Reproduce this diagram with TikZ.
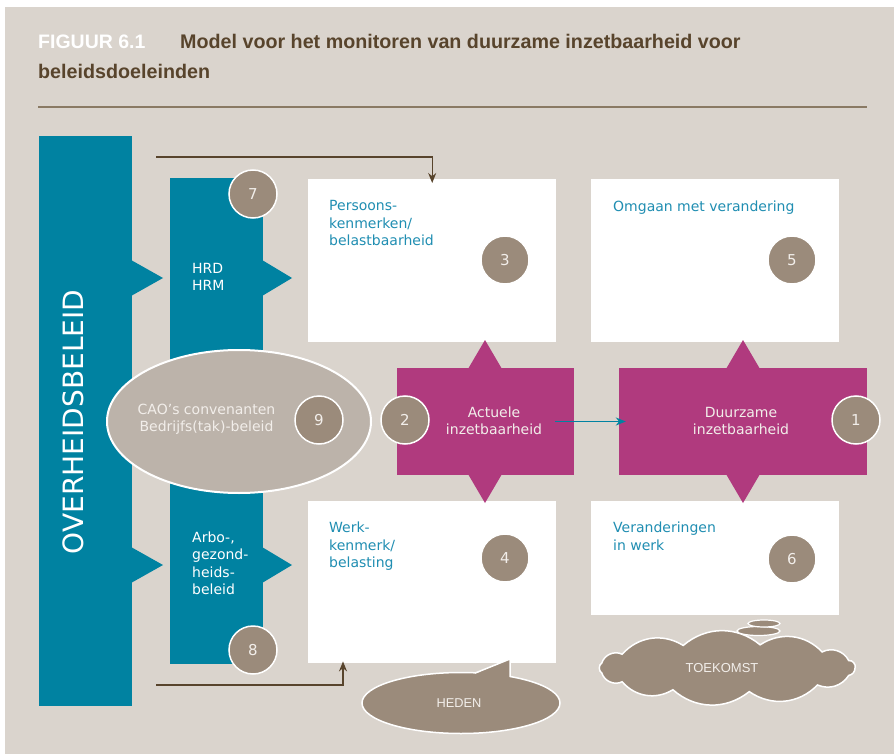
\documentclass[tikz,border=0pt]{standalone}
\usepackage{fontspec}
\setmainfont{DejaVu Sans}
\newfontfamily\titlefont{Liberation Sans}
\usetikzlibrary{arrows.meta,shapes.geometric}
\definecolor{bgc}{RGB}{218,212,205}
\definecolor{tealc}{RGB}{0,130,161}
\definecolor{tealtxt}{RGB}{32,142,178}
\definecolor{magc}{RGB}{176,58,126}
\definecolor{circc}{RGB}{155,139,123}
\definecolor{ellc}{RGB}{188,179,170}
\definecolor{titlec}{RGB}{88,68,44}
\definecolor{rulec}{RGB}{138,122,100}
\definecolor{numc}{RGB}{242,238,234}
\tikzset{
  whitebox/.style={rectangle, fill=white, anchor=north west, inner sep=0pt},
  bartxt/.style={anchor=north west, inner sep=0pt, align=left, text=white, font=\fontsize{14}{17.5}\selectfont},
  boxtxt/.style={anchor=north west, inner sep=0pt, align=left, text=tealtxt, font=\fontsize{14}{17.5}\selectfont},
  numcirc/.style={circle, fill=circc, draw=white, line width=1.5pt, minimum size=48pt, inner sep=0pt, text=numc, font=\fontsize{15}{15}\selectfont},
  magbox/.style={rectangle, fill=magc, minimum width=177pt, minimum height=107pt, inner sep=0pt},
  magtxt/.style={align=center, text=numc, font=\fontsize{14}{17}\selectfont},
  conn/.style={draw=titlec, line width=1.4pt, -{Stealth[length=10pt,width=8pt]}},
}
\begin{document}
\begin{tikzpicture}[x=1pt,y=-1pt]
\useasboundingbox (0,0) rectangle (894,754);
\fill[white] (0,0) rectangle (894,754);
\fill[bgc] (5,7) rectangle (894,754);
% title
\node[anchor=base west, inner sep=0pt, text=white, font=\titlefont\bfseries\fontsize{19.5}{20}\selectfont] (fig) at (38,49) {FIGUUR 6.1};
\node[anchor=base west, inner sep=0pt, text=titlec, font=\titlefont\bfseries\fontsize{19.7}{20}\selectfont] (tit1) at (180,49) {Model voor het monitoren van duurzame inzetbaarheid voor};
\node[anchor=base west, inner sep=0pt, text=titlec, font=\titlefont\bfseries\fontsize{19.7}{20}\selectfont] (tit2) at (38,78.5) {beleidsdoeleinden};
\draw[rulec, line width=2pt] (38,107.5) -- (867,107.5);
% left bar
\node[rectangle, fill=tealc, anchor=north west, minimum width=93pt, minimum height=570pt, inner sep=0pt] (ob) at (39,136) {};
\fill[tealc] (131,260) -- (163,278) -- (131,296) -- cycle;
\fill[tealc] (131,547) -- (163,565) -- (131,583) -- cycle;
\node[rotate=90, text=white, font=\fontsize{28}{28}\selectfont] (obt) at (73,422) {OVERHEIDSBELEID};
% second bar
\node[rectangle, fill=tealc, anchor=north west, minimum width=93pt, minimum height=486pt, inner sep=0pt] (hr) at (170,178) {};
\fill[tealc] (262,260) -- (292,278) -- (262,296) -- cycle;
\fill[tealc] (262,547) -- (292,565) -- (262,583) -- cycle;
\node[bartxt] (hrd) at (192,263) {HRD\\HRM};
\node[bartxt] (arbo) at (192,531.5) {Arbo-,\\gezond-\\heids-\\beleid};
% white boxes
\node[whitebox, minimum width=248pt, minimum height=163pt] (b3) at (308,179) {};
\node[whitebox, minimum width=248pt, minimum height=163pt] (b5) at (591,179) {};
\node[whitebox, minimum width=248pt, minimum height=162pt] (b4) at (308,501) {};
\node[whitebox, minimum width=248pt, minimum height=114pt] (b6) at (591,501) {};
\node[boxtxt] (t3) at (329,200.5) {Persoons-\\kenmerken/\\belastbaarheid};
\node[boxtxt] (t5) at (613,200.5) {Omgaan met verandering};
\node[boxtxt] (t4) at (329,522) {Werk-\\kenmerk/\\belasting};
\node[boxtxt] (t6) at (613,522) {Veranderingen\\in werk};
% connectors
\coordinate (c1) at (156,157);
\coordinate (c2) at (156,685);
\draw[conn] (c1) -| ([yshift=-4pt]b3.north);
\draw[conn] (c2) -| ([xshift=35pt,yshift=2pt]b4.south west);
% magenta shapes
\node[magbox] (act) at (485.5,421.5) {};
\fill[magc] (468,369) -- (485,340) -- (502,369) -- cycle;
\fill[magc] (468,474) -- (485,503) -- (502,474) -- cycle;
\node[magbox, minimum width=248pt] (duu) at (743,421.5) {};
\fill[magc] (726,369) -- (743,340) -- (760,369) -- cycle;
\fill[magc] (726,474) -- (743,503) -- (760,474) -- cycle;
\node[magtxt] (actt) at (494,421) {Actuele\\inzetbaarheid};
\node[magtxt] (duut) at (741,421) {Duurzame\\inzetbaarheid};
\draw[tealc, line width=1.4pt, -{Stealth[length=10pt,width=8pt]}] ([xshift=-19pt]act.east) -- ([xshift=7pt]duu.west);
% ellipse 9
\node[ellipse, fill=ellc, draw=white, line width=2pt, minimum width=264pt, minimum height=143pt, inner sep=0pt] (e9) at (239,421.5) {};
\node[align=center, text=numc, font=\fontsize{14}{17}\selectfont] (e9t) at (206.5,419) {CAO’s convenanten\\Bedrijfs(tak)-beleid};
% number circles
\node[numcirc] (n7) at (253,194) {7};
\node[numcirc] (n8) at (253,650) {8};
\node[numcirc] (n9) at (319,420) {9};
\node[numcirc] (n2) at (405,420) {2};
\node[numcirc] (n1) at (856,420) {1};
\node[numcirc] (n3) at (505,260) {3};
\node[numcirc] (n5) at (792,260) {5};
\node[numcirc] (n4) at (505,558) {4};
\node[numcirc] (n6) at (792,559) {6};
% HEDEN bubble
\node[ellipse, fill=circc, draw=white, line width=1.5pt, minimum width=198pt, minimum height=61pt, inner sep=0pt] (hed) at (461,703) {};
\fill[circc] (470,676) -- (510,659) -- (510,682) -- cycle;
\draw[white, line width=1.5pt, line join=miter] (475,673.1) -- (510,659) -- (510,677.1);
\node[text=numc, font=\titlefont\fontsize{12.8}{13}\selectfont] (hedt) at (459,703) {HEDEN};
% TOEKOMST cloud
\foreach \a [count=\i] in {0,18,45,80,115,145,168,192,215,250,285,318,342}
  \coordinate (k\i) at ({727+128*cos(\a)},{668+24*sin(\a)});
\filldraw[fill=circc, draw=white, line width=1.5pt] (k1)
  to[bend left=40] (k2) to[bend left=40] (k3) to[bend left=40] (k4)
  to[bend left=40] (k5) to[bend left=40] (k6) to[bend left=50] (k7)
  to[bend left=60] (k8) to[bend left=50] (k9) to[bend left=40] (k10)
  to[bend left=40] (k11) to[bend left=40] (k12) to[bend left=45] (k13)
  to[bend left=60] (k1) -- cycle;
\node[ellipse, fill=circc, draw=white, line width=1.2pt, minimum width=43pt, minimum height=9pt, inner sep=0pt] (th1) at (758.5,631) {};
\node[ellipse, fill=circc, draw=white, line width=1.2pt, minimum width=32pt, minimum height=7pt, inner sep=0pt] (th2) at (764,623.5) {};
\node[text=numc, font=\titlefont\fontsize{13}{13}\selectfont] (clt) at (722,668) {TOEKOMST};
\end{tikzpicture}
\end{document}
